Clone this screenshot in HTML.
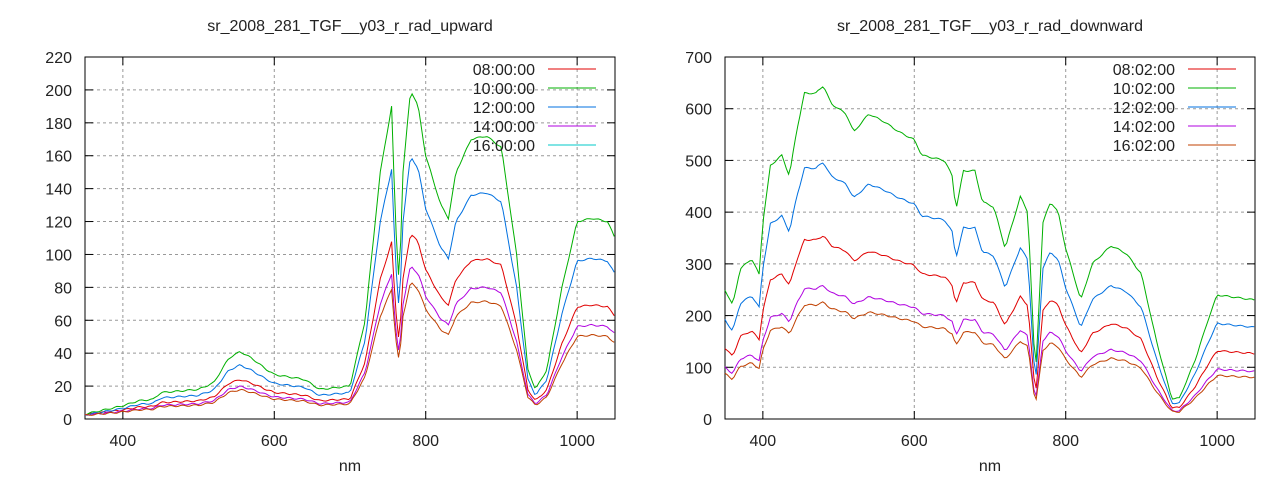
<!DOCTYPE html><html><head><style>body{margin:0;background:#fff}svg text{font-family:"Liberation Sans",sans-serif;fill:#222}</style></head><body>
<svg id="s" width="1280" height="480" xmlns="http://www.w3.org/2000/svg"></svg>
<script>
const S=document.getElementById('s');let h='';
const U=[[350,3],[400,8],[420,11],[440,12],[450,16],[500,18],[520,22],[540,37],[555,41],[570,37],[590,30],[600,27],[640,24],[660,18],[680,19],[700,20],[720,60],[740,150],[755,190],[760,120],[765,80],[770,150],[780,200],[790,190],[800,160],[820,130],[830,122],[840,150],[860,170],[880,172],[900,165],[920,100],[935,30],[945,18],[960,30],[980,80],[1000,120],[1020,122],[1040,120],[1050,110]];
const D=[[350,250],[360,220],[370,290],[385,310],[395,280],[400,380],[410,490],[425,510],[435,470],[445,560],[455,630],[470,630],[480,645],[490,610],[510,590],[520,555],[540,590],[560,575],[580,555],[600,540],[610,510],[640,500],[650,470],[655,405],[665,480],[680,480],[690,420],[705,410],[720,330],[740,430],[750,400],[760,80],[770,380],[780,420],[790,400],[800,330],[820,230],[835,300],[860,335],[880,320],[900,280],[920,150],[940,40],[950,40],[970,110],[990,200],[1000,240],[1050,230]];
function interp(k,x){for(let i=1;i<k.length;i++)if(x<=k[i][0]){const a=k[i-1],b=k[i];return a[1]+(b[1]-a[1])*(x-a[0])/(b[0]-a[0]);}return k[k.length-1][1];}
function chart(X,ymax,step,keys,series,title,labels){
 const L=X,R=X+530,T=57,B=419;const sx=v=>L+(v-350)*530/700,sy=v=>B-v*(B-T)/ymax;
 h+=`<text x="${(L+R)/2}" y="31" font-size="16" text-anchor="middle">${title}</text>`;
 for(let v=0;v<=ymax;v+=step){const y=sy(v);if(v>0&&v<ymax)h+=`<line x1="${L}" x2="${R}" y1="${y}" y2="${y}" stroke="#999" stroke-dasharray="3,3"/>`;h+=`<line x1="${L}" x2="${L+8}" y1="${y}" y2="${y}" stroke="#000"/><line x1="${R-8}" x2="${R}" y1="${y}" y2="${y}" stroke="#000"/><text x="${L-13}" y="${y+6}" font-size="16" text-anchor="end">${v}</text>`;}
 for(let v=400;v<=1000;v+=200){const x=sx(v);h+=`<line x1="${x}" x2="${x}" y1="${T}" y2="${B}" stroke="#999" stroke-dasharray="3,3"/><line x1="${x}" x2="${x}" y1="${B}" y2="${B-8}" stroke="#000"/><line x1="${x}" x2="${x}" y1="${T}" y2="${T+8}" stroke="#000"/><text x="${x}" y="${B+27}" font-size="16" text-anchor="middle">${v}</text>`;}
 h+=`<text x="${(L+R)/2}" y="471" font-size="16" text-anchor="middle">nm</text>`;
 h+=`<rect x="${L}" y="${T}" width="530" height="${B-T}" fill="none" stroke="#000"/>`;
 series.forEach((s,i)=>{let p=[];for(let x=350;x<=1050;x+=3){let v=interp(keys,x)*s[1]+s[2];v+=Math.sin(x*1.7+i)*ymax*0.002;p.push(sx(x).toFixed(1)+','+Math.max(T,Math.min(B,sy(Math.max(0,v)))).toFixed(1));}
  h+=`<polyline points="${p.join(' ')}" fill="none" stroke="${s[0]}" stroke-width="1"/>`;
  const ly=69+i*19;h+=`<text x="${R-80}" y="${ly+6}" font-size="16" text-anchor="end">${labels[i]}</text><line x1="${R-67}" x2="${R-19}" y1="${ly}" y2="${ly}" stroke="${s[3]||s[0]}"/>`;});
}
chart(85,220,20,U,[['#e00000',0.56,1],['#00b000',1,0],['#0070e0',0.8,0],['#b000e0',0.46,1],['#c04000',0.41,1,'#00c8c8']],'sr_2008_281_TGF__y03_r_rad_upward',['08:00:00','10:00:00','12:00:00','14:00:00','16:00:00']);
chart(725,700,100,D,[['#e00000',0.55,0],['#00b000',1,0],['#0070e0',0.77,0],['#b000e0',0.4,0],['#c04000',0.35,0,'#c04000']],'sr_2008_281_TGF__y03_r_rad_downward',['08:02:00','10:02:00','12:02:00','14:02:00','16:02:00']);
S.innerHTML=h;
</script>
</body></html>
